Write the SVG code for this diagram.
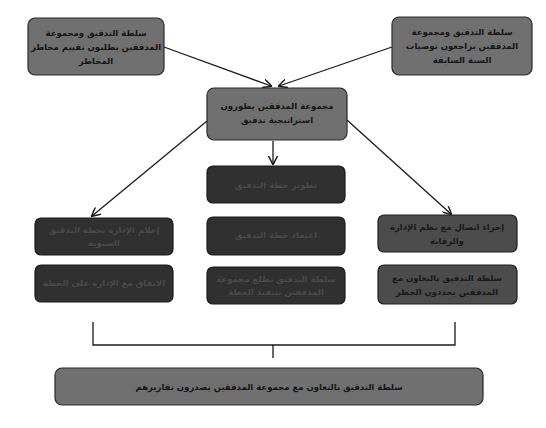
<svg xmlns="http://www.w3.org/2000/svg" width="546" height="428" viewBox="0 0 546 428">
<style>
.bg{fill:#ffffff}
.gray{fill:#707070;stroke:#2a2a2a;stroke-width:1.2}
.mid{fill:#4c4c4c;stroke:#1e1e1e;stroke-width:1.2}
.dark{fill:#303030;stroke:#1a1a1a;stroke-width:1.2}
text{font-family:"DejaVu Sans","Noto Sans",sans-serif;font-size:8.5px;font-weight:bold;text-anchor:middle;direction:rtl}
.t1{fill:#161616}
.t2{fill:#1a1a1a}
.t3{fill:#4a4a4a}
.conn{stroke:#1a1a1a;stroke-width:1.3;fill:none}
</style>
<defs>
<marker id="ah" viewBox="0 0 10 10" refX="9" refY="5" markerWidth="7" markerHeight="7" orient="auto-start-reverse">
<path d="M0,0 L10,5 L0,10" fill="none" stroke="#1a1a1a" stroke-width="1.6"/>
</marker>
</defs>
<rect class="bg" x="0" y="0" width="546" height="428"/>
<g id="connectors">
<line class="conn" x1="164" y1="47" x2="271" y2="86" marker-end="url(#ah)"/>
<line class="conn" x1="392" y1="47" x2="279" y2="86" marker-end="url(#ah)"/>
<line class="conn" x1="207" y1="121" x2="92" y2="216" marker-end="url(#ah)"/>
<line class="conn" x1="273" y1="141" x2="273" y2="164" marker-end="url(#ah)"/>
<line class="conn" x1="347" y1="120" x2="451" y2="214" marker-end="url(#ah)"/>
<path class="conn" d="M93,322 V345 H455 V322 M273,345 V358"/>
</g>
<g id="n_top_left">
<rect class="gray" x="28" y="18" width="136" height="57" rx="7"/>
<text class="t1" x="96" y="36">سلطة التدقيق ومجموعة</text>
<text class="t1" x="96" y="50">المدققين يطلبون تقييم مخاطر</text>
<text class="t1" x="96" y="64">المخاطر</text>
</g>
<g id="n_top_right">
<rect class="gray" x="392" y="17" width="140" height="58" rx="7"/>
<text class="t1" x="462" y="35">سلطة التدقيق ومجموعة</text>
<text class="t1" x="462" y="49">المدققين يراجعون توصيات</text>
<text class="t1" x="462" y="63">السنة السابقة</text>
</g>
<g id="n_center">
<rect class="gray" x="207" y="88" width="140" height="52" rx="7"/>
<text class="t1" x="277" y="109">مجموعة المدققين يطورون</text>
<text class="t1" x="277" y="123">استراتيجية تدقيق</text>
</g>
<g id="n_c1">
<rect class="dark" x="207" y="166" width="138" height="37" rx="6"/>
<text class="t3" x="276" y="188">تطوير خطة التدقيق</text>
</g>
<g id="n_l1">
<rect class="dark" x="35" y="218" width="138" height="37" rx="6"/>
<text class="t3" x="104" y="233">إعلام الإدارة بخطة التدقيق</text>
<text class="t3" x="104" y="246">السنوية</text>
</g>
<g id="n_l2">
<rect class="dark" x="35" y="265" width="138" height="37" rx="6"/>
<text class="t3" x="104" y="286">الاتفاق مع الإدارة على الخطة</text>
</g>
<g id="n_c2">
<rect class="dark" x="207" y="217" width="138" height="38" rx="6"/>
<text class="t3" x="276" y="238">اعتماد خطة التدقيق</text>
</g>
<g id="n_c3">
<rect class="dark" x="207" y="267" width="138" height="37" rx="6"/>
<text class="t3" x="276" y="282">سلطة التدقيق تطلع مجموعة</text>
<text class="t3" x="276" y="295">المدققين بتنفيذ الخطة</text>
</g>
<g id="n_r1">
<rect class="mid" x="378" y="215" width="139" height="37" rx="6"/>
<text class="t2" x="447" y="230">إجراء اتصال مع نظم الإدارة</text>
<text class="t2" x="447" y="244">والرقابة</text>
</g>
<g id="n_r2">
<rect class="mid" x="378" y="265" width="139" height="39" rx="6"/>
<text class="t2" x="447" y="281">سلطة التدقيق بالتعاون مع</text>
<text class="t2" x="447" y="295">المدققين يحددون الخطر</text>
</g>
<g id="n_bottom">
<rect class="gray" x="55" y="368" width="428" height="37" rx="7"/>
<text class="t1" x="269" y="390">سلطة التدقيق بالتعاون مع مجموعة المدققين يصدرون تقاريرهم</text>
</g>
</svg>
